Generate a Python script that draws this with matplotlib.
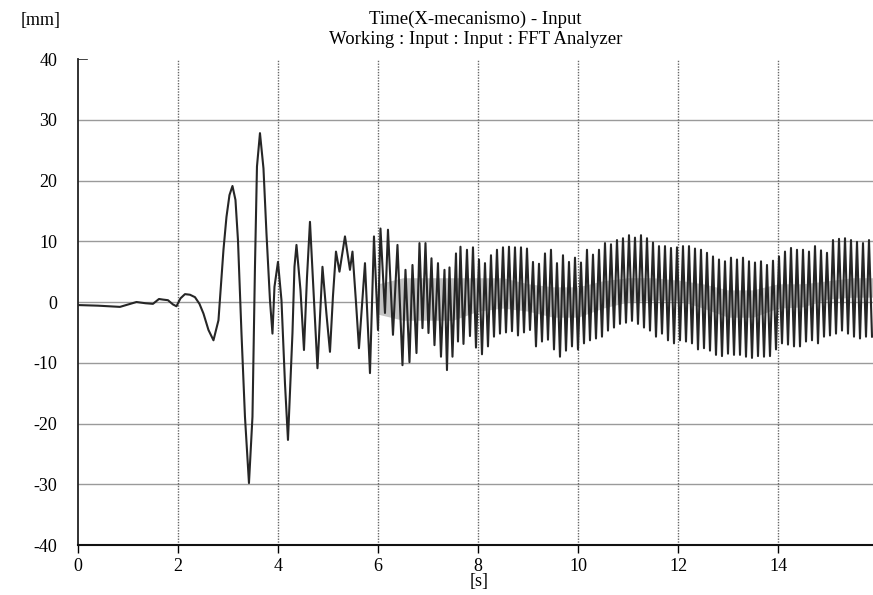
import matplotlib.pyplot as plt
import numpy as np

plt.rcParams['font.family'] = ['Liberation Serif', 'DejaVu Serif']
plt.rcParams['axes.unicode_minus'] = False

# trace, [s] and [mm]
t_early = [0.0, 0.4, 0.84, 1.17, 1.35, 1.5, 1.62, 1.7, 1.8, 1.9, 1.97, 2.05, 2.14,
           2.24, 2.34, 2.43, 2.51, 2.61, 2.71, 2.81, 2.91, 2.97, 3.03, 3.09, 3.15,
           3.2, 3.27, 3.34, 3.42, 3.49, 3.54, 3.58, 3.64, 3.71, 3.77, 3.84, 3.89,
           3.93, 4.0, 4.07, 4.14, 4.2, 4.29, 4.33, 4.37, 4.45, 4.52, 4.58, 4.64,
           4.72, 4.79, 4.89, 4.97, 5.04, 5.1, 5.16, 5.23, 5.34, 5.44, 5.49, 5.56,
           5.62, 5.74, 5.84, 5.92, 6.0, 6.05, 6.14, 6.2, 6.3, 6.39, 6.49, 6.55,
           6.63, 6.69, 6.77, 6.83, 6.89, 6.95, 7.01, 7.07, 7.13, 7.2, 7.26, 7.33,
           7.38, 7.43, 7.49]
y_early = [-0.5, -0.6, -0.8, 0.0, -0.2, -0.3, 0.5, 0.4, 0.3, -0.4, -0.7, 0.6, 1.3,
           1.2, 0.8, -0.3, -1.9, -4.6, -6.3, -3.0, 8.6, 14.0, 17.6, 19.1, 16.8,
           10.2, -5.1, -18.9, -29.8, -18.9, 5.8, 22.3, 27.8, 22.0, 11.3, 0.3, -5.2,
           2.5, 6.6, 0.3, -13.4, -22.7, -5.1, 5.8, 9.4, 2.0, -7.9, 4.0, 13.2,
           0.5, -10.9, 5.8, -2.0, -8.2, 1.0, 8.3, 5.0, 10.8, 5.3, 8.3, 0.0,
           -7.6, 6.4, -11.7, 10.8, -4.6, 12.1, -1.8, 11.9, -5.4, 9.4, -10.4, 5.3,
           -9.9, 6.1, -8.4, 9.7, -4.3, 9.7, -5.1, 7.2, -7.1, 6.4, -9.0, 5.3,
           -11.2, 5.7, -9.0]

t_dense = [7.56, 7.60, 7.65, 7.71, 7.78, 7.84, 7.90, 7.96, 8.02, 8.08, 8.14, 8.20,
           8.26, 8.32, 8.38, 8.44, 8.50, 8.56, 8.62, 8.68, 8.74, 8.80, 8.86, 8.92,
           8.98, 9.04, 9.10, 9.16, 9.22, 9.28, 9.34, 9.40, 9.46, 9.52, 9.58, 9.64,
           9.70, 9.76, 9.82, 9.88, 9.94, 10.00, 10.06, 10.12, 10.18, 10.24, 10.30,
           10.36, 10.42, 10.48, 10.54, 10.60, 10.66, 10.72, 10.78, 10.84, 10.90,
           10.96, 11.02, 11.08, 11.14, 11.20, 11.26, 11.32, 11.38, 11.44, 11.50,
           11.56, 11.62, 11.68, 11.74, 11.80, 11.86, 11.92, 11.98, 12.04, 12.10,
           12.16, 12.22, 12.28, 12.34, 12.40, 12.46, 12.52, 12.58, 12.64, 12.70,
           12.76, 12.82, 12.88, 12.94, 13.00, 13.06, 13.12, 13.18, 13.24, 13.30,
           13.36, 13.42, 13.48, 13.54, 13.60, 13.66, 13.72, 13.78, 13.84, 13.90,
           13.96, 14.02, 14.08, 14.14, 14.20, 14.26, 14.32, 14.38, 14.44, 14.50,
           14.56, 14.62, 14.68, 14.74, 14.80, 14.86, 14.92, 14.98, 15.04, 15.10,
           15.16, 15.22, 15.28, 15.34, 15.40, 15.46, 15.52, 15.58, 15.64, 15.70,
           15.76, 15.82, 15.88]
y_dense = [8.0, -6.5, 9.1, -6.9, 8.6, -5.6, 9.0, -7.5, 7.0, -8.6, 6.4, -7.3,
           7.7, -5.7, 8.6, -5.2, 9.0, -5.0, 9.1, -4.8, 9.0, -5.5, 9.0, -5.0,
           8.8, -4.6, 6.6, -7.3, 6.3, -6.5, 8.0, -6.2, 8.6, -7.8, 6.4, -9.0,
           7.7, -8.0, 6.6, -7.3, 7.3, -7.8, 6.5, -6.8, 8.6, -6.3, 7.8,
           -6.0, 8.6, -5.7, 9.7, -4.7, 9.5, -4.2, 10.2, -3.6, 10.5,
           -3.4, 11.0, -3.1, 10.6, -3.6, 11.0, -4.2, 10.5, -4.7, 9.8,
           -5.7, 9.2, -5.2, 9.2, -6.3, 8.9, -6.8, 9.0, -6.3, 9.2,
           -6.5, 9.2, -6.8, 8.8, -7.8, 8.6, -7.6, 8.1, -8.0, 7.5,
           -8.7, 7.0, -8.9, 6.7, -8.5, 7.3, -8.7, 7.0, -8.7, 7.3,
           -9.0, 6.7, -9.2, 6.5, -8.9, 6.7, -9.0, 6.1, -8.9, 6.8,
           -7.8, 7.5, -6.8, 8.3, -7.0, 8.9, -7.3, 8.6, -7.3, 8.6,
           -6.5, 8.3, -6.3, 9.2, -6.8, 8.5, -5.7, 8.1, -5.5, 10.2,
           -5.2, 10.4, -4.7, 10.5, -5.2, 10.2, -5.7, 9.9, -6.0, 9.7,
           -5.7, 10.2, -5.7]

# light grey band of fine ripple in the middle of the dense part
t_band = [6.0, 6.5, 7.0, 7.5, 8.0, 8.5, 9.0, 9.5, 10.0, 10.5, 11.0, 11.5,
          12.0, 12.5, 13.0, 13.5, 14.0, 14.5, 15.0, 15.5, 15.9]
band_hi = [3, 4, 4, 4, 4, 4, 3, 2.5, 2.5, 3.5, 4, 4, 3.6, 3, 2, 2, 3, 3, 3.5, 4, 4]
band_lo = [-2, -3, -3, -3, -1.5, -1, -1.5, -2.5, -2.5, -1, 0, 0.3, 0.3, -1, -2.5,
           -2.5, -1, -0.8, 0.5, 0.8, 0.8]

x_ticks = [0, 2, 4, 6, 8, 10, 12, 14]
y_ticks = [-40, -30, -20, -10, 0, 10, 20, 30, 40]

fig = plt.figure(figsize=(8.73, 5.95), dpi=100)
ax = fig.add_axes([0.0893, 0.084, 0.9107, 0.8168])

t = np.array(t_early + t_dense)
y = np.array(y_early + y_dense)

ax.fill_between(t_band, band_lo, band_hi, color='#c4c4c4', lw=0, zorder=2)
ax.plot(t, y, color='#262626', lw=1.5, zorder=3)

ax.set_xlim(0, 15.9)
ax.set_ylim(-40, 40)
ax.set_xticks(x_ticks)
ax.set_yticks(y_ticks)
ax.tick_params(axis='x', direction='out', length=6, width=1, labelsize=13, pad=3)
ax.tick_params(axis='y', direction='in', length=0, labelsize=13, pad=15)

for v in y_ticks[1:-1]:
    ax.axhline(v, color='#9a9a9a', lw=1.0, zorder=1)
ax.axhline(40, xmin=0, xmax=0.012, color='#222222', lw=1.2)
for v in x_ticks[1:]:
    ax.axvline(v, color='#666666', lw=1.0, ls=(0, (1, 1)), zorder=1)

for s in ['top', 'right']:
    ax.spines[s].set_visible(False)
ax.spines['left'].set_color('#222222')
ax.spines['left'].set_linewidth(1.3)
ax.spines['bottom'].set_color('#111111')
ax.spines['bottom'].set_linewidth(1.5)

fig.text(0.5492, 0.022, '[s]', fontsize=13, ha='center', va='center')
fig.text(0.024, 0.965, '[mm]', fontsize=13, ha='left', va='center')
fig.text(0.5446, 0.968, 'Time(X-mecanismo) - Input', fontsize=13.5, ha='center', va='center')
fig.text(0.5446, 0.934, 'Working : Input : Input : FFT Analyzer', fontsize=13.5,
         ha='center', va='center')

fig.savefig('out.png', dpi=100)
